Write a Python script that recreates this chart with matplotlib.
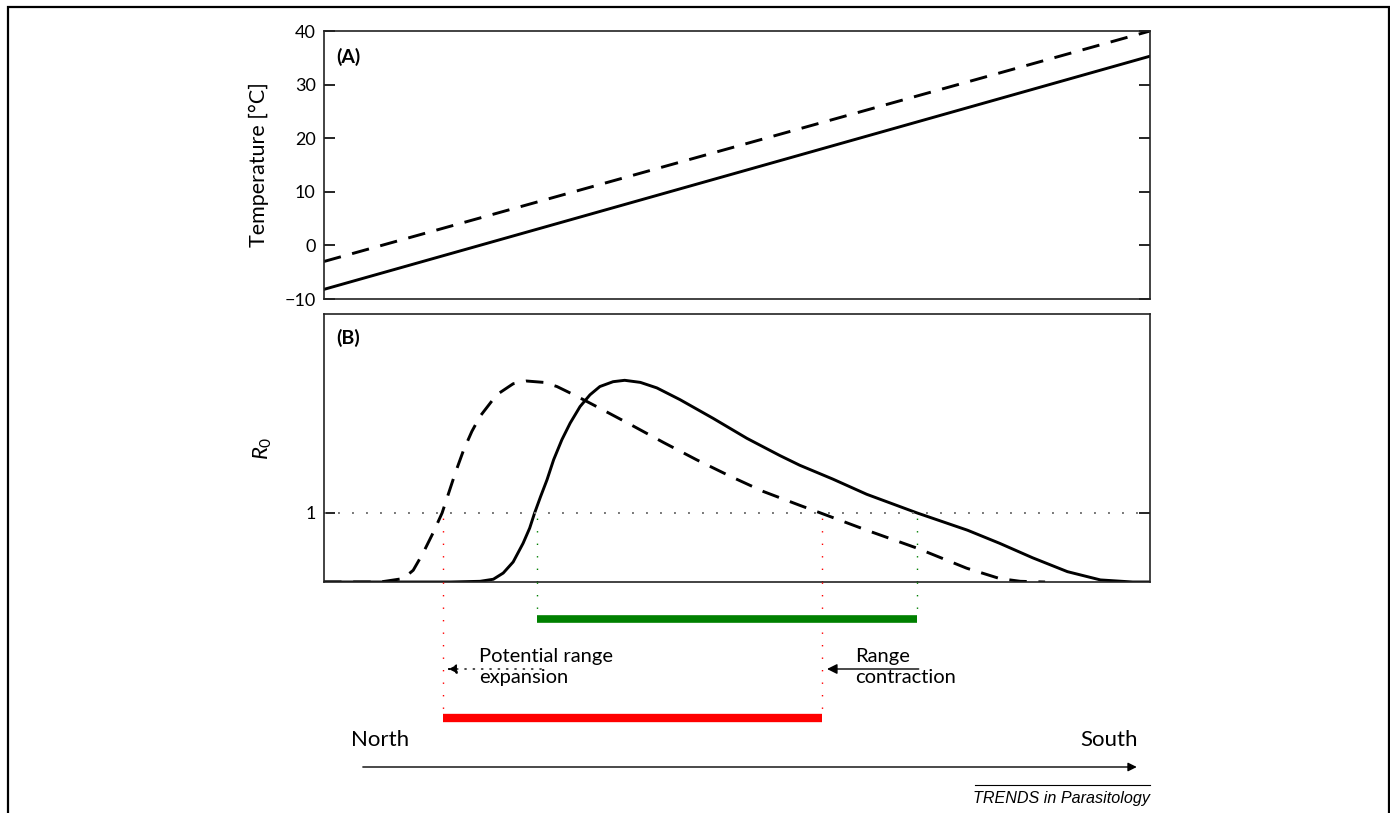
import matplotlib
matplotlib.use('Agg')
import matplotlib.pyplot as plt
from matplotlib.patches import Rectangle

plt.rcParams['font.family'] = ['Lato', 'DejaVu Sans']
plt.rcParams['mathtext.fontset'] = 'custom'
plt.rcParams['mathtext.rm'] = 'Lato'
plt.rcParams['mathtext.it'] = 'Lato:italic'

# position along the north-south gradient (arbitrary units, 0 = north)
pos_temp = [0, 100]
temp_now = [-8.2, 35.3]
temp_future = [-3.0, 40.0]

# R0 today (solid)
pos_now = [0, 15.3, 18.9, 20.5, 21.7, 22.9, 24.1, 24.9, 25.5, 26.2, 27.0, 27.8,
           28.8, 29.8, 31.0, 32.2, 33.4, 35.0, 36.4, 38.3, 40.3, 43.1, 47.1,
           51.2, 55.2, 57.6, 61.6, 65.7, 71.8, 77.9, 81.8, 85.8, 90.0, 94.0,
           97.9, 100]
r0_now = [0, 0, 0.01, 0.04, 0.13, 0.29, 0.56, 0.78, 1.0, 1.23, 1.48, 1.77,
          2.06, 2.30, 2.54, 2.71, 2.83, 2.90, 2.92, 2.89, 2.81, 2.64, 2.37,
          2.08, 1.83, 1.69, 1.49, 1.27, 1.0, 0.75, 0.56, 0.35, 0.15, 0.03,
          0.0, 0]

# R0 under warming (dashed)
pos_future = [0, 6.8, 9.6, 10.8, 12.0, 13.2, 14.3, 15.1, 15.9, 16.9, 17.9,
              18.9, 20.9, 22.9, 24.5, 26.6, 28.2, 30.6, 33.0, 37.1, 41.1, 45.1,
              49.2, 53.2, 57.6, 60.1, 65.7, 71.8, 77.8, 81.8, 84.3, 87.3]
r0_future = [0, 0, 0.05, 0.17, 0.42, 0.71, 1.0, 1.29, 1.58, 1.91, 2.18,
             2.40, 2.71, 2.87, 2.91, 2.89, 2.83, 2.69, 2.54, 2.28, 2.02, 1.77,
             1.53, 1.31, 1.11, 1.0, 0.75, 0.49, 0.20, 0.05, 0.01, 0]

range_now = [25.8, 71.8]
range_future = [14.4, 60.3]

W, H = 1390, 813
fig = plt.figure(figsize=(W / 100, H / 100), dpi=100)

# outer frame
fig.patches.append(Rectangle((7.5 / W, -0.05), (1388.5 - 7.5) / W, 1.05 - 7.5 / H,
                             transform=fig.transFigure, fill=False,
                             edgecolor='black', linewidth=1.6, zorder=0))

axA = fig.add_axes([324 / W, 1 - 299 / H, 826 / W, 268 / H])
axB = fig.add_axes([324 / W, 1 - 582 / H, 826 / W, 268 / H])
axC = fig.add_axes([324 / W, 0, 826 / W, 1 - 582 / H])

lw = 2.1
dash = (6, 4)
axA.plot(pos_temp, temp_now, color='black', lw=lw)
axA.plot(pos_temp, temp_future, color='black', lw=lw, dashes=dash)
axA.set_xlim(0, 100)
axA.set_ylim(-10, 40)
axA.set_yticks([-10, 0, 10, 20, 30, 40])
axA.set_yticklabels(['\u221210', '0', '10', '20', '30', '40'])
axA.set_xticks([])
axA.set_ylabel('Temperature [\u00b0C]', fontsize=15.5)
axA.yaxis.set_label_coords(-0.066, 0.5)
axA.text(0.015, 0.903, '(A)', transform=axA.transAxes, fontsize=14,
         fontweight='bold', va='center')

axB.plot(pos_now, r0_now, color='black', lw=lw, solid_joinstyle='round')
axB.plot(pos_future, r0_future, color='black', lw=lw, dashes=dash)
axB.axhline(1, color='#777777', lw=1.4, dashes=(1, 6.2))
axB.set_xlim(0, 100)
axB.set_ylim(0, 3.88)
axB.set_yticks([1])
axB.set_xticks([])
axB.set_ylabel('$\\mathit{R}_0$', fontsize=16)
axB.yaxis.set_label_coords(-0.061, 0.5)
axB.text(0.015, 0.91, '(B)', transform=axB.transAxes, fontsize=14,
         fontweight='bold', va='center')

for ax in (axA, axB):
    ax.tick_params(axis='y', direction='in', length=8, width=1.2, right=True,
                   labelsize=13, pad=6)
    for s in ax.spines.values():
        s.set_linewidth(1.2)
        s.set_color('#222222')

# dotted guides from R0 = 1 down to the range bars
for xv in range_future:
    axB.plot([xv, xv], [0, 1], color='red', lw=1.0, dashes=(1, 8), zorder=1)
for xv in range_now:
    axB.plot([xv, xv], [0, 1], color='green', lw=1.0, dashes=(1, 8), zorder=1)

axC.set_xlim(0, 100)
axC.set_ylim(813, 582)
axC.axis('off')

y_green, y_red = 619, 718
for xv in range_now:
    axC.plot([xv, xv], [582, y_green], color='green', lw=1.0, dashes=(1, 8))
for xv in range_future:
    axC.plot([xv, xv], [582, y_red], color='red', lw=1.0, dashes=(1, 8))
axC.plot(range_now, [y_green, y_green], color='#008000', lw=5.5, solid_capstyle='butt')
axC.plot(range_future, [y_red, y_red], color='#ff0000', lw=6, solid_capstyle='butt')

# arrows and annotations
axC.annotate('', xy=(range_future[0] + 0.5, 669), xytext=(26.3, 669),
             arrowprops=dict(arrowstyle='-|>', color='black', lw=1.0,
                             linestyle=(0, (1, 5)), mutation_scale=15,
                             shrinkA=0, shrinkB=0))
axC.text(18.8, 667, 'Potential range\nexpansion', fontsize=14.5, ha='left',
         va='center', linespacing=1.35)
axC.annotate('', xy=(range_future[1] + 0.6, 669), xytext=(72.0, 669),
             arrowprops=dict(arrowstyle='-|>', color='black', lw=1.0,
                             mutation_scale=15, shrinkA=0, shrinkB=0))
axC.text(64.3, 667, 'Range\ncontraction', fontsize=14.5, ha='left',
         va='center', linespacing=1.35)

axC.text(3.3, 740, 'North', fontsize=16, ha='left', va='center')
axC.text(98.5, 740, 'South', fontsize=16, ha='right', va='center')
axC.annotate('', xy=(98.4, 767), xytext=(4.7, 767),
             arrowprops=dict(arrowstyle='-|>', color='black', lw=1.0,
                             mutation_scale=13, shrinkA=0, shrinkB=0))

axC.plot([78.8, 100], [785, 785], color='black', lw=0.8, clip_on=False)
axC.text(100, 798, 'TRENDS in Parasitology', fontsize=11.6, ha='right',
         va='center', style='italic', family='Liberation Sans')

fig.savefig('out.png', dpi=100)
